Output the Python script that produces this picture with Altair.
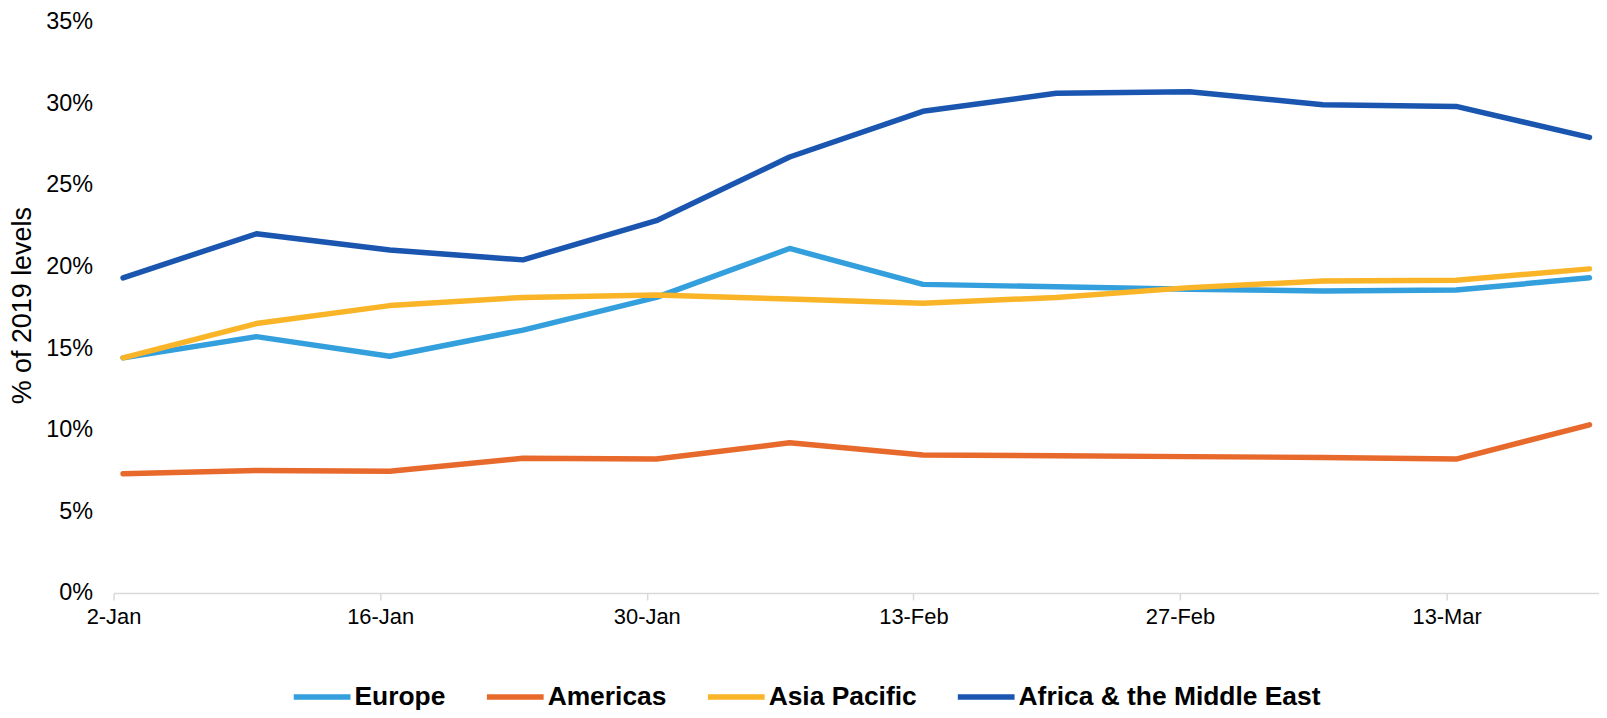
import altair as alt
import pandas as pd

dates = ["2021-01-02", "2021-01-09", "2021-01-16", "2021-01-23", "2021-01-30", "2021-02-06",
         "2021-02-13", "2021-02-20", "2021-02-27", "2021-03-06", "2021-03-13", "2021-03-20"]
europe = [14.4, 15.7, 14.5, 16.1, 18.1, 21.1, 18.9, 18.75, 18.6, 18.5, 18.55, 19.3]
americas = [7.3, 7.5, 7.45, 8.25, 8.2, 9.2, 8.45, 8.4, 8.35, 8.3, 8.2, 10.3]
asia_pacific = [14.4, 16.5, 17.6, 18.1, 18.25, 18.0, 17.75, 18.1, 18.7, 19.1, 19.15, 19.85]
africa_me = [19.3, 22.0, 21.0, 20.4, 22.8, 26.7, 29.5, 30.6, 30.7, 29.9, 29.8, 27.9]

series = ["Europe", "Americas", "Asia Pacific", "Africa & the Middle East"]
colors = ["#339FDD", "#E8692C", "#F9B527", "#1A56B0"]
values = [europe, americas, asia_pacific, africa_me]
tick_days = [(1, 2), (1, 16), (1, 30), (2, 13), (2, 27), (3, 13)]

rows = []
for name, vals in zip(series, values):
    for d, v in zip(dates, vals):
        rows.append({"date": d + "T12:00:00", "region": name, "value": v / 100.0})
df = pd.DataFrame(rows)

FONT = "Liberation Sans"

chart = alt.Chart(df).mark_line(strokeWidth=5.5, strokeCap="round", strokeJoin="round").encode(
    x=alt.X(
        "date:T",
        scale=alt.Scale(domain=[alt.DateTime(year=2021, month=1, date=2),
                                alt.DateTime(year=2021, month=3, date=21)]),
        axis=alt.Axis(
            title=None,
            values=[alt.DateTime(year=2021, month=m, date=d) for m, d in tick_days],
            format="%-d-%b",
            grid=False,
            domainColor="#d9d9d9",
            domainWidth=1.5,
            tickColor="#d9d9d9",
            tickWidth=1.5,
            tickSize=7,
            labelPadding=7,
            labelFontSize=22,
            labelFont=FONT,
            labelColor="#000000",
            labelFlush=False,
        ),
    ),
    y=alt.Y(
        "value:Q",
        scale=alt.Scale(domain=[0, 0.35], nice=False),
        axis=alt.Axis(
            title="% of 2019 levels",
            values=[0, 0.05, 0.10, 0.15, 0.20, 0.25, 0.30, 0.35],
            format=".0%",
            grid=False,
            domain=False,
            ticks=False,
            tickSize=0,
            labelPadding=21,
            labelFontSize=23.5,
            labelFont=FONT,
            labelColor="#000000",
            titleFont=FONT,
            titleFontSize=27,
            titleFontWeight="normal",
            titleColor="#000000",
            titleBaseline="middle",
            titleX=-91,
            titleY=285,
        ),
    ),
    color=alt.Color(
        "region:N",
        scale=alt.Scale(domain=series, range=colors),
        legend=alt.Legend(
            title=None,
            orient="none",
            legendX=178,
            legendY=647,
            direction="horizontal",
            symbolType="stroke",
            symbolSize=3249,
            symbolStrokeWidth=5.5,
            labelFontSize=26.5,
            labelFontWeight="bold",
            labelFont=FONT,
            labelColor="#000000",
            labelOffset=1,
            columnPadding=30,
            labelLimit=500,
        ),
    ),
).properties(
    width=1492,
    height=574,
    autosize=alt.AutoSizeParams(type="none"),
    padding={"left": 106, "top": 12, "right": 0, "bottom": 116},
).configure_view(stroke=None)

chart.save("out.html", embed_options={"renderer": "svg", "actions": False})
